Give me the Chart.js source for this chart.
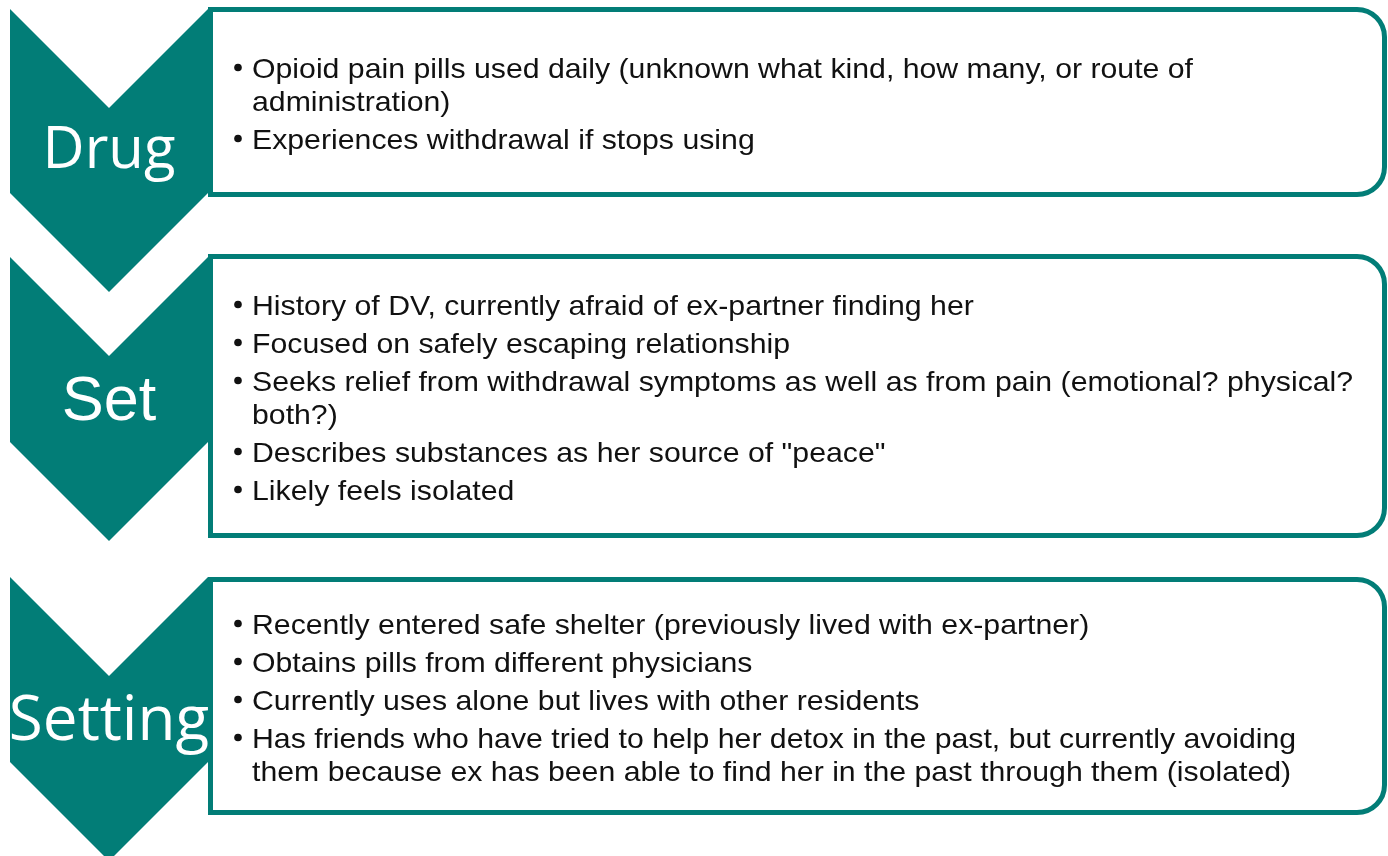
<!DOCTYPE html>
<html>
<head>
<meta charset="utf-8">
<script src="https://cdn.jsdelivr.net/npm/chart.js@4.4.1/dist/chart.umd.min.js"></script>
<style>
  html, body { margin: 0; padding: 0; background: #fff; }
  #wrap { width: 1388px; height: 856px; }
</style>
</head>
<body>
<div id="wrap"><canvas id="diagram" width="1388" height="856"></canvas></div>
<script>
// Stage names and their bullet points (each bullet split into its printed lines)
const stages = ['Drug', 'Set', 'Setting'];
const drugNotes = [
    ['Opioid pain pills used daily (unknown what kind, how many, or route of', 'administration)'],
    ['Experiences withdrawal if stops using']
];
const setNotes = [
    ['History of DV, currently afraid of ex-partner finding her'],
    ['Focused on safely escaping relationship'],
    ['Seeks relief from withdrawal symptoms as well as from pain (emotional? physical?', 'both?)'],
    ['Describes substances as her source of "peace"'],
    ['Likely feels isolated']
];
const settingNotes = [
    ['Recently entered safe shelter (previously lived with ex-partner)'],
    ['Obtains pills from different physicians'],
    ['Currently uses alone but lives with other residents'],
    ['Has friends who have tried to help her detox in the past, but currently avoiding', 'them because ex has been able to find her in the past through them (isolated)']
];
const notes = [drugNotes, setNotes, settingNotes];

// layout (in scale units, which map 1:1 to canvas pixels)
const TEAL = '#027d77';
const chevron = { left: 10, right: 208, depth: 99 };
const chevTops = [9, 257, 577];
const chevBottoms = [193, 442, 762];
const boxes = [[7, 197], [254, 538], [577, 815]];
const boxLeft = 208, boxRight = 1387, border = 5, radius = 30;
const labelFonts = ['58px "Open Sans"', '63px "Liberation Sans"', '62px "Open Sans"'];
const labelShift = [17.5, 21, 21];
const textFont = '28px "Liberation Sans"';
const firstLineWidth = 941;   // width of the first printed line in the reference
const bulletGap = 38, wrapGap = 33;

const diagramPlugin = {
    id: 'chevronList',
    afterDraw(chart) {
        const ctx = chart.ctx;
        const X = v => chart.scales.x.getPixelForValue(v);
        const Y = v => chart.scales.y.getPixelForValue(v);
        const cx = (chevron.left + chevron.right) / 2;

        ctx.save();
        ctx.font = textFont;
        const sx = firstLineWidth / ctx.measureText(drugNotes[0][0]).width;

        stages.forEach((name, i) => {
            const t = chevTops[i], b = chevBottoms[i];
            // chevron
            ctx.beginPath();
            ctx.moveTo(X(chevron.left), Y(t));
            ctx.lineTo(X(cx), Y(t + chevron.depth));
            ctx.lineTo(X(chevron.right), Y(t));
            ctx.lineTo(X(chevron.right), Y(b));
            ctx.lineTo(X(cx), Y(b + chevron.depth));
            ctx.lineTo(X(chevron.left), Y(b));
            ctx.closePath();
            ctx.fillStyle = TEAL;
            ctx.fill();

            // box with rounded right corners
            const [bt, bb] = boxes[i];
            const l = X(boxLeft + border / 2), r = X(boxRight - border / 2);
            const top = Y(bt + border / 2), bot = Y(bb - border / 2);
            const rr = radius - border / 2;
            ctx.beginPath();
            ctx.moveTo(l, top);
            ctx.lineTo(r - rr, top);
            ctx.arcTo(r, top, r, top + rr, rr);
            ctx.lineTo(r, bot - rr);
            ctx.arcTo(r, bot, r - rr, bot, rr);
            ctx.lineTo(l, bot);
            ctx.closePath();
            ctx.fillStyle = '#fff';
            ctx.fill();
            ctx.lineWidth = border;
            ctx.strokeStyle = TEAL;
            ctx.stroke();

            // stage label
            ctx.fillStyle = '#fff';
            ctx.font = labelFonts[i];
            ctx.textAlign = 'center';
            ctx.textBaseline = 'alphabetic';
            ctx.fillText(name, X(cx), Y((t + b + chevron.depth) / 2 + labelShift[i]));

            // bullets
            const lines = [];
            notes[i].forEach((bullet, k) => {
                bullet.forEach((txt, j) => lines.push({ txt, dot: j === 0, gap: k === 0 && j === 0 ? 0 : (j === 0 ? bulletGap : wrapGap) }));
            });
            const span = lines.reduce((s, ln) => s + ln.gap, 0);
            let y = (bt + bb) / 2 - span / 2 + 11;
            ctx.font = textFont;
            ctx.textAlign = 'left';
            ctx.fillStyle = '#111';
            lines.forEach(ln => {
                y += ln.gap;
                if (ln.dot) {
                    ctx.beginPath();
                    ctx.arc(X(238), Y(y - 10), 3.8, 0, Math.PI * 2);
                    ctx.fill();
                }
                ctx.save();
                ctx.translate(X(252), Y(y));
                ctx.scale(sx, 1);
                ctx.fillText(ln.txt, 0, 0);
                ctx.restore();
            });
        });
        ctx.restore();
    }
};

new Chart(document.getElementById('diagram'), {
    type: 'scatter',
    data: { datasets: [{ data: [] }] },
    options: {
        responsive: false,
        animation: false,
        devicePixelRatio: 1,
        layout: { padding: 0 },
        plugins: { legend: { display: false }, tooltip: { enabled: false } },
        scales: {
            x: { type: 'linear', min: 0, max: 1388, display: false },
            y: { type: 'linear', min: 0, max: 856, reverse: true, display: false }
        }
    },
    plugins: [diagramPlugin]
});
</script>
</body>
</html>
